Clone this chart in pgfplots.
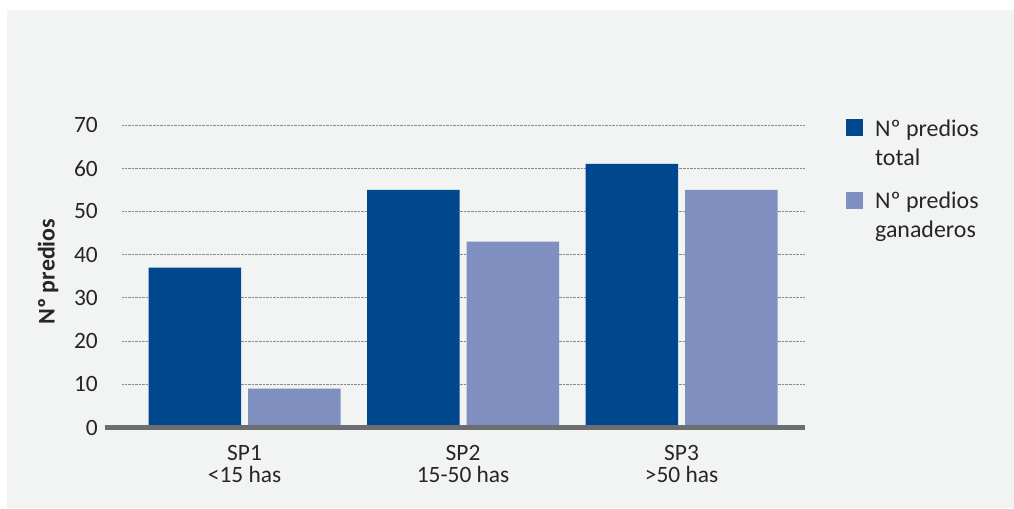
\documentclass[border=0pt]{standalone}
\usepackage{fontspec}
\setmainfont{Carlito}
\usepackage{pgfplots}
\pgfplotsset{compat=1.18}
\definecolor{bg}{HTML}{F2F3F3}
\definecolor{dark}{HTML}{00488E}
\definecolor{light}{HTML}{7F8FC0}
\definecolor{base}{HTML}{6D6E71}
\definecolor{txt}{HTML}{262626}
\definecolor{gridc}{HTML}{8C8C8C}

\begin{document}
\begin{tikzpicture}
\useasboundingbox (0bp,0bp) rectangle (1014bp,509bp);
\fill[bg] (7bp,1bp) rectangle (1014bp,499bp);
\begin{axis}[
    at={(122bp,81.5bp)}, anchor=south west,
    scale only axis, width=683bp, height=302.5bp,
    clip=false,
    ybar=7bp, bar width=92.5bp,
    xmin=-0.561, xmax=2.565,
    ymin=0, ymax=70,
    ytick={0,10,...,70},
    xtick=data,
    xticklabels={SP1\\<15 has, SP2\\15-50 has, SP3\\>50 has},
    axis line style={draw=none},
    major tick length=0pt,
    ymajorgrids,
    major grid style={densely dotted, gridc, line width=0.9bp},
    /pgf/number format/assume math mode=true,
    tick label style={text=txt, font=\fontsize{23.5}{22}\selectfont},
    yticklabel style={inner sep=0pt, xshift=-24bp},
    xticklabel style={align=center, inner sep=0pt, yshift=-18bp},
    ylabel={Nº predios},
    ylabel style={at={(axis description cs:-0.108,0.515)}, rotate=0, anchor=center,
        font=\fontsize{24}{28}\selectfont\bfseries, text=txt},
    legend style={at={(axis description cs:1.06,1.02)}, anchor=north west,
        draw=none, fill=none, inner sep=0pt, row sep=25bp,
        nodes={align=left, text=txt, inner sep=0pt, font=\fontsize{24}{29}\selectfont}},
    legend cell align=left,
    legend image code/.code={\path[fill=none, draw=none] (0bp,7bp) -- (29bp,7bp);
        \fill[#1] (0bp,7bp) rectangle (17bp,24bp);},
]
\addplot[fill=dark, draw=none] coordinates {(0,37) (1,55) (2,61)};
\addplot[fill=light, draw=none] coordinates {(0,9) (1,43) (2,55)};
\legend{Nº predios\\total, Nº predios\\ganaderos}
\draw[base, line width=4.5bp] (axis cs:-0.639,0) -- (axis cs:2.565,0);
\end{axis}
\end{tikzpicture}
\end{document}
